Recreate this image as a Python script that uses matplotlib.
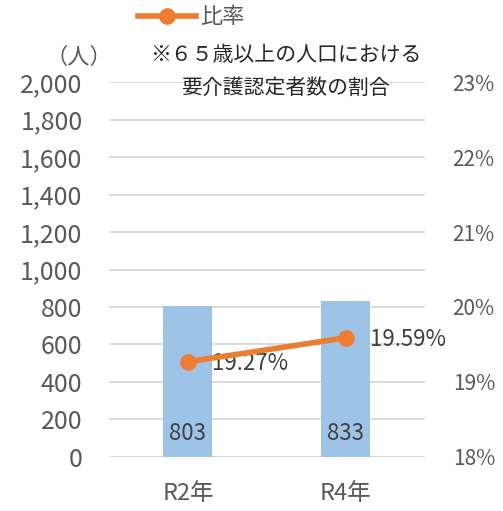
import numpy as np
import matplotlib.pyplot as plt

plt.rcParams['font.family'] = ['Noto Sans CJK JP', 'DejaVu Sans']

# データ
categorias = ['R2年', 'R4年']
ninzu = [803, 833]
hiritsu = [19.27, 19.59]
etiquetas_hiritsu = ['19.27%', '19.59%']

gris = '#595959'
fig = plt.figure(figsize=(5.03, 5.11), dpi=100)
ax = fig.add_axes([0.2167, 0.1057, 0.628, 0.7338])
x = np.arange(len(categorias))

barras = ax.bar(x, ninzu, width=0.31, color='#9DC3E6', zorder=2)
for xi, v in zip(x, ninzu):
    ax.text(xi, 125, f'{v}', ha='center', va='center', fontsize=16, color='#404040', zorder=4)

ax.set_xlim(-0.5, 1.5)
ax.set_ylim(0, 2000)
ax.set_yticks(np.arange(0, 2001, 200))
ax.set_yticklabels([f'{v:,}' for v in range(0, 2001, 200)])
ax.set_xticks(x)
ax.set_xticklabels(categorias)
ax.grid(axis='y', color='#D9D9D9', linewidth=1.3, zorder=0)
ax.tick_params(axis='y', length=0, labelsize=18, labelcolor=gris, pad=19)
ax.tick_params(axis='x', length=0, labelsize=17, labelcolor=gris, pad=18)
for s in ax.spines.values():
    s.set_visible(False)

ax2 = ax.twinx()
ax2.plot(x, hiritsu, color='#ED7D31', linewidth=4, marker='o', markersize=11, zorder=5, label='比率')
for xi, v, t in zip(x, hiritsu, etiquetas_hiritsu):
    ax2.text(xi + 0.15, v - 0.02, t, ha='left', va='center', fontsize=16, color='#404040')
ax2.set_ylim(18, 23)
ax2.set_yticks(np.arange(18, 24, 1))
ax2.set_yticklabels([f'{v}%' for v in range(18, 24)])
ax2.tick_params(axis='y', length=0, labelsize=15, labelcolor=gris, pad=20)
for s in ax2.spines.values():
    s.set_visible(False)

fig.legend(loc='center', bbox_to_anchor=(0.38, 0.967), frameon=False, fontsize=16,
           labelcolor=gris, handlelength=2.6, handletextpad=0.2)
fig.text(0.157, 0.888, '（人）', ha='center', va='center', fontsize=16, color=gris)
fig.text(0.568, 0.893, '※６５歳以上の人口における', ha='center', va='center', fontsize=15, color='#262626')
fig.text(0.568, 0.828, '要介護認定者数の割合', ha='center', va='center', fontsize=15, color='#262626')

fig.savefig('out.png', dpi=100)
